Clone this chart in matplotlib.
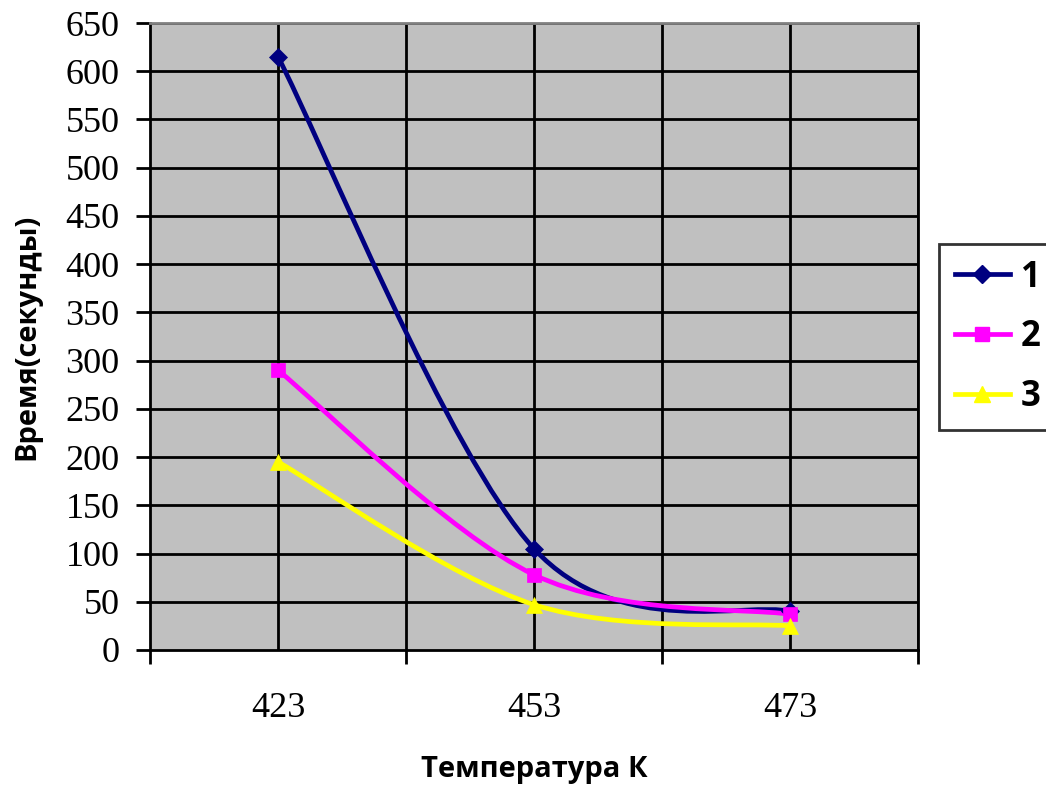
import matplotlib.pyplot as plt
import numpy as np
from matplotlib.path import Path
from matplotlib.patches import PathPatch
from matplotlib.lines import Line2D

temps = ["423", "453", "473"]
series_names = ["1", "2", "3"]
s1 = [615, 105, 40]
s2 = [290, 78, 37]
s3 = [195, 47, 25]
colors = ["#000080", "#FF00FF", "#FFFF00"]
markers = ["D", "s", "^"]
msizes = [9.5, 10.5, 12]


def smooth_path(xs, ys):
    # Excel-style smoothed line: cubic Bezier through every point
    pts = np.column_stack([xs, ys]).astype(float)
    n = len(pts)
    verts = [pts[0]]
    codes = [Path.MOVETO]
    for i in range(n - 1):
        p0 = pts[max(i - 1, 0)]
        p1 = pts[i]
        p2 = pts[i + 1]
        p3 = pts[min(i + 2, n - 1)]
        c1 = p1 + (p2 - p0) / 6.0
        c2 = p2 - (p3 - p1) / 6.0
        verts += [c1, c2, p2]
        codes += [Path.CURVE4] * 3
    return Path(verts, codes)


fig = plt.figure(figsize=(10.46, 7.90), dpi=100)
ax = fig.add_axes([150 / 1046, 140 / 790, 768 / 1046, 627 / 790])
ax.set_facecolor("#C0C0C0")

x = np.arange(len(temps)) + 0.5
ax.set_xlim(0, len(temps))
ax.set_ylim(0, 650)

yt = np.arange(0, 651, 50)
for v in yt[1:]:
    ax.axhline(v, color="black", linewidth=2, zorder=1)
for v in np.arange(0.5, len(temps) + 0.01, 0.5):
    ax.axvline(v, color="black", linewidth=2, zorder=1)

for vals, c, m, ms in zip([s1, s2, s3], colors, markers, msizes):
    # the transform handles data -> pixel
    patch = PathPatch(smooth_path(x, vals), facecolor="none", edgecolor=c,
                      linewidth=3.4, zorder=3, capstyle="round", joinstyle="round")
    ax.add_patch(patch)
    ax.plot(x, vals, linestyle="none", marker=m, markersize=ms, color=c,
            markeredgecolor=c, markeredgewidth=0.5, zorder=4)

ax.set_yticks(yt)
ax.set_yticklabels([str(v) for v in yt], fontfamily="Liberation Serif", fontsize=26)
ax.set_xticks([0, 1, 2, 3])
ax.set_xticklabels([])
ax.set_xticks(x, minor=True)
ax.set_xticklabels(temps, minor=True, fontfamily="Liberation Serif", fontsize=26)
ax.tick_params(axis="x", which="minor", length=0, pad=30)
ax.tick_params(axis="x", which="major", length=10, width=2, direction="out")
ax.tick_params(axis="y", length=10, width=2, direction="out", pad=12)

ax.spines["top"].set_color("#808080")
ax.spines["top"].set_linewidth(2)
ax.spines["right"].set_color("black")
ax.spines["right"].set_linewidth(2)
ax.spines["left"].set_linewidth(2)
ax.spines["bottom"].set_linewidth(2)

ax.set_xlabel("Температура К", fontfamily="Open Sans", fontweight="bold",
              fontsize=21, labelpad=22)
ax.set_ylabel("Время(секунды)", fontfamily="Open Sans", fontweight="bold",
              fontsize=21, labelpad=17)

handles = [Line2D([], [], color=c, marker=m, markersize=ms, linewidth=3.4)
           for c, m, ms in zip(colors, markers, msizes)]
leg = fig.legend(handles, series_names, loc="upper left",
                 bbox_to_anchor=(939 / 1046, 1 - 244 / 790),
                 prop={"family": "Open Sans", "weight": "bold", "size": 25},
                 frameon=True, fancybox=False, edgecolor="black",
                 handlelength=1.6, handletextpad=0.3, labelspacing=0.68,
                 borderpad=0.45, borderaxespad=0)
leg.get_frame().set_linewidth(2)

fig.savefig("out.png", dpi=100)
